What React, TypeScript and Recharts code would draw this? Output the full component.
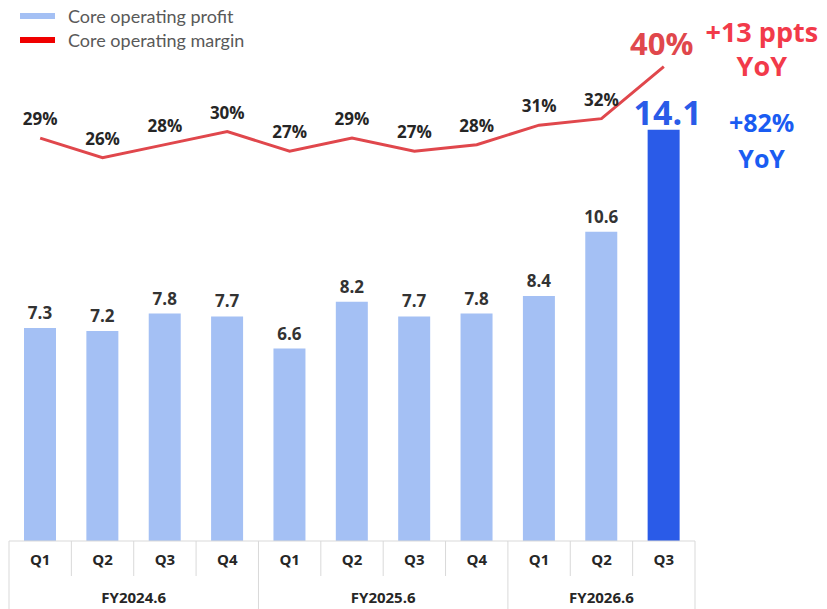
import React from "react";
import {
  ComposedChart,
  Bar,
  Line,
  XAxis,
  YAxis,
  Cell,
  LabelList,
} from "recharts";

const quarters = ["Q1", "Q2", "Q3", "Q4", "Q1", "Q2", "Q3", "Q4", "Q1", "Q2", "Q3"];
const fiscalYears = [
  "FY2024.6", "FY2024.6", "FY2024.6", "FY2024.6",
  "FY2025.6", "FY2025.6", "FY2025.6", "FY2025.6",
  "FY2026.6", "FY2026.6", "FY2026.6",
];
const coreProfit = [7.3, 7.2, 7.8, 7.7, 6.6, 8.2, 7.7, 7.8, 8.4, 10.6, 14.1];
const coreMargin = [29, 26, 28, 30, 27, 29, 27, 28, 31, 32, 40];

const data = quarters.map((q, i) => ({
  key: `${fiscalYears[i]}-${q}`,
  quarter: q,
  fy: fiscalYears[i],
  profit: coreProfit[i],
  margin: coreMargin[i],
}));

const LAST = data.length - 1;
const W = 827;
const H = 609;
const LEFT = 9;
const RIGHT = 132;
const PLOT_W = W - LEFT - RIGHT;
const BAND = PLOT_W / data.length;
const FONT = "'Open Sans', sans-serif";
const GRID = "#d9d9d9";
const LIGHT_BLUE = "#a4c0f4";
const DARK_BLUE = "#2a5be8";
const LINE_RED = "#e0474c";

function QuarterTick(props: any) {
  const { x, y, payload } = props;
  const i = payload.index;
  const fy = fiscalYears[i];
  const isStart = i === 0 || fiscalYears[i - 1] !== fy;
  let groupEnd = i;
  while (groupEnd < LAST && fiscalYears[groupEnd + 1] === fy) groupEnd++;
  const count = groupEnd - i + 1;
  const left = x - BAND / 2;
  return (
    <g>
      <line x1={left} x2={left} y1={y} y2={isStart ? H : y + 35} stroke={GRID} strokeWidth={1} />
      {i === LAST && (
        <line x1={x + BAND / 2} x2={x + BAND / 2} y1={y} y2={H} stroke={GRID} strokeWidth={1} />
      )}
      <text x={x} y={y + 24} textAnchor="middle" fontFamily={FONT} fontWeight={700} fontSize={15} fill="#262626">
        {payload.value}
      </text>
      {isStart && (
        <text x={left + (count * BAND) / 2} y={y + 62} textAnchor="middle" fontFamily={FONT} fontWeight={700} fontSize={15} fill="#262626">
          {fy}
        </text>
      )}
    </g>
  );
}

function ProfitLabel(props: any) {
  const { x, y, width, value, index } = props;
  const cx = x + width / 2;
  if (index === LAST) {
    return (
      <g fontFamily={FONT} fontWeight={700}>
        <text x={cx + 4} y={y - 5} textAnchor="middle" fontSize={34} fill={DARK_BLUE}>
          {value}
        </text>
        <text x={cx + 98} y={y + 2} textAnchor="middle" fontSize={25} fill="#1a5cf2">
          +82%
        </text>
        <text x={cx + 98} y={y + 38} textAnchor="middle" fontSize={25} fill="#1a5cf2">
          YoY
        </text>
      </g>
    );
  }
  return (
    <text x={cx} y={y - 9} textAnchor="middle" fontFamily={FONT} fontWeight={700} fontSize={17} fill="#333">
      {value}
    </text>
  );
}

function MarginLabel(props: any) {
  const { x, y, value, index } = props;
  if (index === LAST) {
    return (
      <g fontFamily={FONT} fontWeight={700}>
        <text x={x - 2} y={y - 12} textAnchor="middle" fontSize={31} fill={LINE_RED}>
          {`${value}%`}
        </text>
        <text x={x + 98} y={y - 25} textAnchor="middle" fontSize={27} fill="#f23a4a">
          +13 ppts
        </text>
        <text x={x + 98} y={y + 9} textAnchor="middle" fontSize={27} fill="#f23a4a">
          YoY
        </text>
      </g>
    );
  }
  return (
    <text x={x} y={y - 13} textAnchor="middle" fontFamily={FONT} fontWeight={700} fontSize={17} fill="#262626">
      {`${value}%`}
    </text>
  );
}

const legendItems = [
  { label: "Core operating profit", color: LIGHT_BLUE },
  { label: "Core operating margin", color: "#f00000" },
];

export default function App() {
  return (
    <div style={{ position: "absolute", left: 0, top: 0, width: W, height: H, background: "#fff" }}>
      <div style={{ position: "absolute", left: 20, top: 4, zIndex: 2, fontFamily: "Lato, 'Open Sans', sans-serif" }}>
        {legendItems.map((it) => (
          <div key={it.label} style={{ display: "flex", alignItems: "center", height: 24 }}>
            <span style={{ display: "inline-block", width: 35, height: 6, background: it.color, marginRight: 13 }} />
            <span style={{ fontSize: 18, color: "#595959" }}>{it.label}</span>
          </div>
        ))}
      </div>
      <ComposedChart
        width={W}
        height={H}
        data={data}
        margin={{ top: 16, right: RIGHT, left: LEFT, bottom: 0 }}
      >
        <XAxis
          dataKey="quarter"
          height={68}
          interval={0}
          tickLine={false}
          tickSize={0}
          tickMargin={0}
          axisLine={{ stroke: GRID }}
          tick={<QuarterTick />}
        />
        <YAxis yAxisId="profit" hide domain={[0, 18]} />
        <YAxis yAxisId="pct" hide orientation="right" domain={[-33, 47.8]} />
        <Bar yAxisId="profit" dataKey="profit" barSize={32} isAnimationActive={false}>
          {data.map((d, i) => (
            <Cell key={d.key} fill={i === LAST ? DARK_BLUE : LIGHT_BLUE} />
          ))}
          <LabelList dataKey="profit" content={<ProfitLabel />} />
        </Bar>
        <Line
          yAxisId="pct"
          type="linear"
          dataKey="margin"
          stroke={LINE_RED}
          strokeWidth={3}
          dot={false}
          activeDot={false}
          isAnimationActive={false}
        >
          <LabelList dataKey="margin" content={<MarginLabel />} />
        </Line>
      </ComposedChart>
    </div>
  );
}
